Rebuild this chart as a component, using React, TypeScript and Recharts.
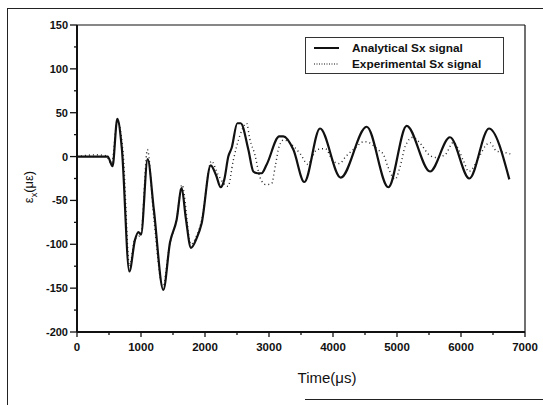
import React from 'react';
import { LineChart, Line, XAxis, YAxis, Legend, ReferenceLine } from 'recharts';

// analytical Sx signal (solid)
const analyticalTime = [
  0, 480, 555, 630, 700, 818, 906, 960, 1000, 1104, 1200, 1349, 1453, 1557, 1635, 1700, 1781, 1870,
  1948, 2089, 2172, 2245, 2302, 2364, 2417, 2505, 2557, 2677, 2755, 2820, 2885, 2964, 3161, 3224,
  3380, 3552, 3797, 4120, 4526, 4865, 5151, 5516, 5828, 6130, 6437, 6755,
];
const analyticalStrain = [
  0, 0, -11, 43, 10, -131, -95, -86, -89, -3, -60, -152, -98, -72, -36, -70, -104, -93,
  -76, -10, -21, -35, -26, 0, 10, 38, 38, 8, -17, -19, -19, -9, 23, 23,
  8, -29, 32, -24, 34, -35, 35, -17, 22, -25, 32, -26,
];

// experimental Sx signal (dotted)
const experimentalTime = [
  0, 300, 450, 540, 630, 720, 820, 900, 1000, 1100, 1200, 1340, 1450, 1560, 1640, 1780, 1870, 1950,
  2100, 2200, 2360, 2440, 2550, 2650, 2700, 2780, 2860, 2950, 3040, 3100, 3160, 3230, 3380, 3490,
  3610, 3670, 3750, 3880, 4000, 4100, 4200, 4350, 4480, 4560, 4700, 4790, 4860, 4970, 5050, 5130,
  5250, 5340, 5520, 5600, 5750, 5880, 6040, 6120, 6300, 6380, 6450, 6560, 6660, 6770,
];
const experimentalStrain = [
  0, 2, 1, -8, 40, 5, -125, -95, -88, 8, -70, -148, -100, -70, -32, -100, -90, -72,
  -5, -20, -34, -5, 25, 38, 20, 2, -24, -32, -31, -10, 12, 19, 12, 3,
  -9, -1, 8, 9, -5, -8, 0, 10, 17, 16, 8, 2, -12, -26, -11, 12,
  22, 17, 1, -1, 2, 16, -5, -17, 2, 12, 16, 6, 5, 3,
];

const xTicks = [0, 500, 1000, 1500, 2000, 2500, 3000, 3500, 4000, 4500, 5000, 5500, 6000, 6500, 7000];
const yTicks = [-200, -175, -150, -125, -100, -75, -50, -25, 0, 25, 50, 75, 100, 125, 150];

const analytical = analyticalTime.map((t, i) => ({ t, v: analyticalStrain[i] }));
const experimental = experimentalTime.map((t, i) => ({ t, v: experimentalStrain[i] }));

const FONT = '"Liberation Sans", Arial, sans-serif';
const TICK_SIZE = 6;
const Y_MARGIN = 3;
const X_MARGIN = 6;

const YTick = (props: any) => {
  const { x, y, payload } = props;
  const axisX = x + TICK_SIZE + Y_MARGIN;
  const major = payload.value % 50 === 0;
  return (
    <g>
      <line x1={axisX - (major ? 7 : 3)} x2={axisX} y1={y} y2={y} stroke="#111" strokeWidth={1.3} />
      {major && (
        <text x={x} y={y} dy="0.36em" textAnchor="end" fontFamily={FONT} fontWeight="bold" fontSize={11} fill="#111">
          {payload.value}
        </text>
      )}
    </g>
  );
};

const XTick = (props: any) => {
  const { x, y, payload } = props;
  const axisY = y - TICK_SIZE - X_MARGIN;
  const major = payload.value % 1000 === 0;
  return (
    <g>
      <line x1={x} x2={x} y1={axisY} y2={axisY + (major ? 5 : 3)} stroke="#111" strokeWidth={1.3} />
      {major && (
        <text x={x} y={y - 1} dy="0.71em" textAnchor="middle" fontFamily={FONT} fontWeight="bold" fontSize={11.5} fill="#111">
          {payload.value}
        </text>
      )}
    </g>
  );
};

const LegendBox = () => (
  <div
    style={{
      border: '1px solid #333',
      width: 199,
      height: 37,
      boxSizing: 'border-box',
      fontFamily: FONT,
      fontWeight: 'bold',
      fontSize: 11.8,
      color: '#111',
      background: '#fff',
      paddingTop: 2,
    }}
  >
    <div style={{ display: 'flex', alignItems: 'center', height: 16 }}>
      <svg width={46} height={10} style={{ flex: 'none' }}>
        <line x1={8} x2={33} y1={5} y2={5} stroke="#111" strokeWidth={2} />
      </svg>
      <span style={{ whiteSpace: 'nowrap' }}>Analytical Sx signal</span>
    </div>
    <div style={{ display: 'flex', alignItems: 'center', height: 16 }}>
      <svg width={46} height={10} style={{ flex: 'none' }}>
        <line x1={8} x2={33} y1={5} y2={5} stroke="#111" strokeWidth={1} strokeDasharray="1 1.5" />
      </svg>
      <span style={{ whiteSpace: 'nowrap' }}>Experimental Sx signal</span>
    </div>
  </div>
);

export default function App() {
  return (
    <div style={{ position: 'absolute', left: 0, top: 0, width: 543, height: 405, background: '#fff', overflow: 'hidden' }}>
      {/* scanned frame */}
      <div style={{ position: 'absolute', left: 7, top: 8, width: 560, height: 420, borderLeft: '1.5px solid #222', borderTop: '1.5px solid #222' }} />
      <div style={{ position: 'absolute', left: 305, top: 399, width: 250, borderTop: '1.5px solid #222' }} />

      <LineChart
        width={543}
        height={405}
        margin={{ top: 25, right: 18, bottom: 43, left: 37 }}
        style={{ position: 'absolute', left: 0, top: 0 }}
      >
        <XAxis
          dataKey="t"
          type="number"
          domain={[0, 7000]}
          ticks={xTicks}
          interval={0}
          height={30}
          tickSize={TICK_SIZE}
          tickMargin={X_MARGIN}
          tickLine={false}
          tick={<XTick />}
          axisLine={{ stroke: '#111', strokeWidth: 2 }}
          allowDataOverflow
        />
        <YAxis
          dataKey="v"
          type="number"
          domain={[-200, 150]}
          ticks={yTicks}
          interval={0}
          width={40}
          tickSize={TICK_SIZE}
          tickMargin={Y_MARGIN}
          tickLine={false}
          tick={<YTick />}
          axisLine={{ stroke: '#111', strokeWidth: 2 }}
          allowDataOverflow
        />
        <ReferenceLine y={150} stroke="#111" strokeWidth={1.2} />
        <ReferenceLine x={7000} stroke="#111" strokeWidth={1.2} />
        <Legend
          layout="horizontal"
          verticalAlign="middle"
          align="center"
          content={<LegendBox />}
          wrapperStyle={{ top: 37, left: 305, width: 200, height: 37 }}
        />
        <Line
          data={experimental}
          dataKey="v"
          type="monotone"
          stroke="#222"
          strokeWidth={1.4}
          strokeDasharray="1 3"
          dot={false}
          isAnimationActive={false}
        />
        <Line
          data={analytical}
          dataKey="v"
          type="monotone"
          stroke="#111"
          strokeWidth={2.2}
          dot={false}
          isAnimationActive={false}
        />
      </LineChart>

      <div
        style={{
          position: 'absolute',
          left: 30,
          top: 187,
          transform: 'translate(-50%, -50%) rotate(-90deg)',
          fontFamily: FONT,
          fontSize: 13,
          color: '#111',
          whiteSpace: 'nowrap',
        }}
      >
        ε<sub style={{ fontSize: 9 }}>x</sub>(με)
      </div>
      <div
        style={{
          position: 'absolute',
          left: 327,
          top: 377,
          transform: 'translate(-50%, -50%)',
          fontFamily: FONT,
          fontSize: 15,
          color: '#111',
          whiteSpace: 'nowrap',
        }}
      >
        Time(μs)
      </div>
    </div>
  );
}
